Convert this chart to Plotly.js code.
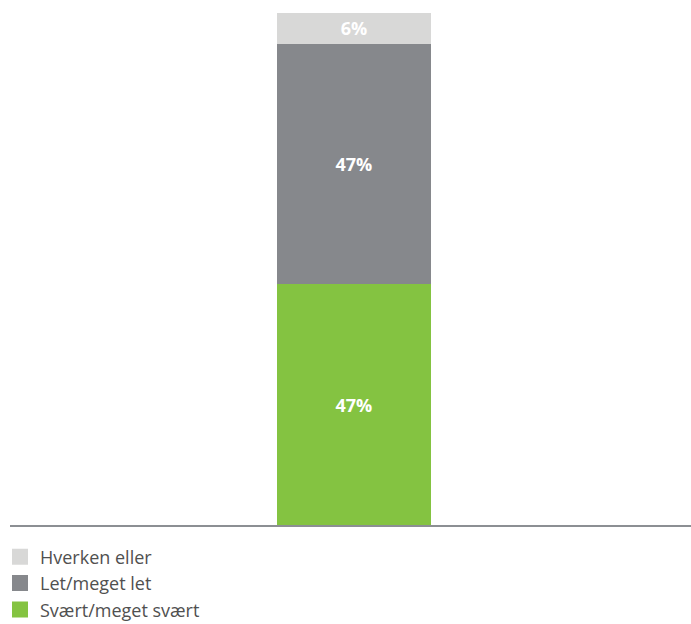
<!DOCTYPE html>
<html>
<head>
<meta charset="utf-8">
<script src="https://cdn.plot.ly/plotly-3.0.1.min.js"></script>
<style>html,body{margin:0;padding:0;background:#fff;}</style>
</head>
<body>
<div id="chart" style="width:691px;height:624px;"></div>
<script>
const category = ['Total'];
const seriesNames = ['Svært/meget svært', 'Let/meget let', 'Hverken eller'];
const svaert = [47];
const let_ = [47];
const hverken = [6];
const colors = ['#84c341', '#86888c', '#d8d8d7'];

const values = [svaert, let_, hverken];
const traces = seriesNames.map((name, i) => ({
  type: 'bar',
  name: name,
  x: category,
  y: values[i],
  width: 0.226,
  marker: {color: colors[i], line: {width: 0}},
  text: values[i].map(v => v + '%'),
  texttemplate: '<b>%{text}</b>',
  textposition: 'inside',
  insidetextanchor: 'middle',
  constraintext: 'none',
  textfont: {family: 'Open Sans, sans-serif', size: 18, color: '#ffffff'},
  hoverinfo: 'none',
  legendgroup: 'g' + i
}));

const layout = {
  width: 691, height: 624,
  margin: {l: 10, r: 0, t: 13, b: 99, autoexpand: false},
  barmode: 'stack',
  showlegend: true,
  paper_bgcolor: '#ffffff',
  plot_bgcolor: '#ffffff',
  font: {family: 'Open Sans, sans-serif', color: '#505050'},
  xaxis: {
    type: 'category',
    range: [-0.505, 0.495],
    showticklabels: false, ticks: '',
    showgrid: false, zeroline: false,
    showline: true, linecolor: '#8c8f93', linewidth: 1.5
  },
  yaxis: {
    range: [0, 100],
    visible: false, showgrid: false, zeroline: false
  },
  legend: {
    orientation: 'v',
    traceorder: 'reversed',
    xref: 'container', yref: 'container',
    x: 0, xanchor: 'left',
    y: 0.137, yanchor: 'top',
    font: {family: 'Open Sans, sans-serif', size: 18, color: '#505050'},
    tracegroupgap: 10,
    bgcolor: 'rgba(0,0,0,0)'
  }
};

const gd = document.getElementById('chart');
function enlargeSymbols() {
  gd.querySelectorAll('.legendpoints path').forEach(p => {
    p.setAttribute('d', 'M8,8H-8V-8H8Z');
  });
}
Plotly.newPlot(gd, traces, layout, {displayModeBar: false, staticPlot: true}).then(enlargeSymbols);
</script>
</body>
</html>
